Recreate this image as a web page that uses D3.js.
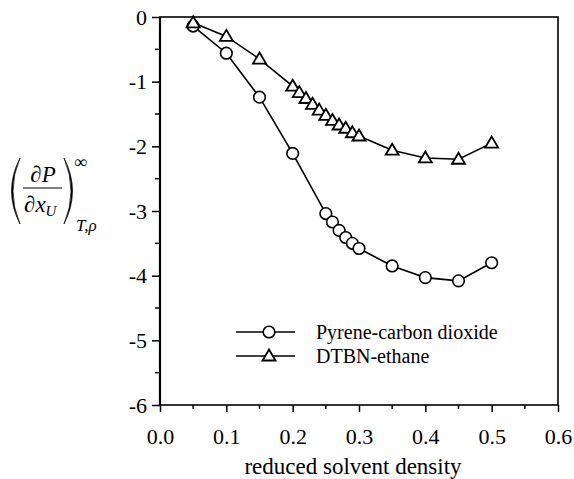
<!DOCTYPE html>
<html><head><meta charset="utf-8">
<script src="https://d3js.org/d3.v7.min.js"></script>
<style>
body{margin:0;background:#fff;}
svg{display:block;}
</style></head>
<body>
<svg id="chart" width="574" height="479"></svg>
<script>
// ---- data ----
const pyreneX = [0.05,0.10,0.15,0.20,0.25,0.26,0.27,0.28,0.29,0.30,0.35,0.40,0.45,0.50];
const pyreneY = [-0.14,-0.56,-1.24,-2.11,-3.04,-3.17,-3.30,-3.41,-3.50,-3.58,-3.85,-4.03,-4.08,-3.80];
const dtbnX = [0.05,0.10,0.15,0.20,0.21,0.22,0.23,0.24,0.25,0.26,0.27,0.28,0.29,0.30,0.35,0.40,0.45,0.50];
const dtbnY = [-0.09,-0.30,-0.65,-1.07,-1.17,-1.26,-1.35,-1.44,-1.52,-1.60,-1.67,-1.72,-1.79,-1.84,-2.06,-2.18,-2.20,-1.95];
const xTicks = [0,0.1,0.2,0.3,0.4,0.5,0.6];
const xTickLabels = ["0.0","0.1","0.2","0.3","0.4","0.5","0.6"];
const yTicks = [0,-1,-2,-3,-4,-5,-6];
const yTickLabels = ["0","-1","-2","-3","-4","-5","-6"];
const seriesNames = ["Pyrene-carbon dioxide","DTBN-ethane"];
const xTitle = "reduced solvent density";

const FONT = "Liberation Serif";
const svg = d3.select("#chart");
const L=160, R=558, T=17, B=405;
const x = d3.scaleLinear().domain([0,0.6]).range([L,R]);
const y = d3.scaleLinear().domain([-6,0]).range([B,T]);

const xMinor = d3.range(0.05,0.6,0.1);
const yMinor = d3.range(-0.5,-6,-1);

const gx = svg.append("g").attr("transform",`translate(0,${B})`);
gx.call(d3.axisBottom(x).tickValues(xTicks).tickSize(7).tickFormat((d,i)=>xTickLabels[i]));
gx.attr("font-family",FONT).attr("font-size",22);
gx.select(".domain").remove();
gx.selectAll("line").attr("stroke","#000").attr("stroke-width",1.5);
gx.selectAll("text").attr("y",23).attr("dy","0.71em").attr("fill","#000");
gx.selectAll(".minor").data(xMinor).enter().append("line")
  .attr("x1",d=>x(d)).attr("x2",d=>x(d)).attr("y1",0).attr("y2",4)
  .attr("stroke","#000").attr("stroke-width",1.5);

const gy = svg.append("g").attr("transform",`translate(${L},0)`);
gy.call(d3.axisLeft(y).tickValues(yTicks).tickSize(8).tickFormat((d,i)=>yTickLabels[i]));
gy.attr("font-family",FONT).attr("font-size",22);
gy.select(".domain").remove();
gy.selectAll("line").attr("stroke","#000").attr("stroke-width",1.5);
gy.selectAll("text").attr("x",-13).attr("dy","0.33em").attr("fill","#000");
gy.selectAll(".minor").data(yMinor).enter().append("line")
  .attr("y1",d=>y(d)).attr("y2",d=>y(d)).attr("x1",0).attr("x2",-5)
  .attr("stroke","#000").attr("stroke-width",1.5);

// frame
svg.append("rect").attr("x",L).attr("y",T).attr("width",R-L).attr("height",B-T)
  .attr("fill","none").attr("stroke","#000").attr("stroke-width",1.6);
svg.append("line").attr("x1",L).attr("x2",L).attr("y1",T).attr("y2",B).attr("stroke","#000").attr("stroke-width",2.2);

// lines
const line = d3.line().x(d=>x(d[0])).y(d=>y(d[1]));
const pyr = pyreneX.map((d,i)=>[d,pyreneY[i]]);
const dtb = dtbnX.map((d,i)=>[d,dtbnY[i]]);
svg.append("path").datum(pyr).attr("d",line).attr("fill","none").attr("stroke","#000").attr("stroke-width",1.6);
svg.append("path").datum(dtb).attr("d",line).attr("fill","none").attr("stroke","#000").attr("stroke-width",1.6);

const tri = "M0,-6.5L6.5,4.5L-6.5,4.5Z";
svg.selectAll(".pc").data(pyr).enter().append("circle")
  .attr("cx",d=>x(d[0])).attr("cy",d=>y(d[1])).attr("r",5.8)
  .attr("fill","#fff").attr("stroke","#000").attr("stroke-width",1.6);
svg.selectAll(".dt").data(dtb).enter().append("path")
  .attr("d",tri).attr("transform",d=>`translate(${x(d[0])},${y(d[1])})`)
  .attr("fill","#fff").attr("stroke","#000").attr("stroke-width",1.8).attr("stroke-linejoin","miter");

// legend
const lg = svg.append("g").attr("font-family",FONT).attr("font-size",20);
[0,1].forEach(i=>{
  const yy = 332 + i*24;
  lg.append("line").attr("x1",236).attr("x2",295).attr("y1",yy).attr("y2",yy).attr("stroke","#000").attr("stroke-width",1.6);
  if(i===0) lg.append("circle").attr("cx",269).attr("cy",yy).attr("r",5.8).attr("fill","#fff").attr("stroke","#000").attr("stroke-width",1.6);
  else lg.append("path").attr("d",tri).attr("transform",`translate(269,${yy})`).attr("fill","#fff").attr("stroke","#000").attr("stroke-width",1.8);
  lg.append("text").attr("x",316).attr("y",yy+7).text(seriesNames[i]);
});

// x title
svg.append("text").attr("x",(L+R)/2-6).attr("y",474).attr("text-anchor","middle")
  .attr("font-family",FONT).attr("font-size",23).text(xTitle);

// y title: (dP/dx_U)^inf_{T,rho}
const yl = svg.append("g").attr("font-family",FONT);
const parenPath = (x0,top,bot,dir)=>{
  const mid=(top+bot)/2, b=dir*17;
  return `M${x0},${top} Q${x0-b},${mid} ${x0},${bot} Q${x0-b+dir*3},${mid} ${x0},${top}Z`;
};
yl.append("path").attr("d",parenPath(20,158,224,1)).attr("fill","#000").attr("stroke","#000").attr("stroke-width",0.7);
yl.append("path").attr("d",parenPath(64,158,224,-1)).attr("fill","#000").attr("stroke","#000").attr("stroke-width",0.7);
yl.append("line").attr("x1",23).attr("x2",62).attr("y1",188).attr("y2",188).attr("stroke","#000").attr("stroke-width",1.2);
const num = yl.append("text").attr("x",43).attr("y",182).attr("text-anchor","middle").attr("font-size",23);
num.append("tspan").text("∂");
num.append("tspan").attr("font-style","italic").text("P");
const den = yl.append("text").attr("x",24).attr("y",212).attr("font-size",23);
den.append("tspan").text("∂");
den.append("tspan").attr("font-style","italic").text("x");
den.append("tspan").attr("dy",4).attr("font-style","italic").attr("font-size",15).text("U");
yl.append("text").attr("x",74).attr("y",168).attr("font-size",18).text("∞");
yl.append("text").attr("x",76).attr("y",231).attr("font-size",17).attr("font-style","italic").text("T,ρ");
</script>
</body></html>
